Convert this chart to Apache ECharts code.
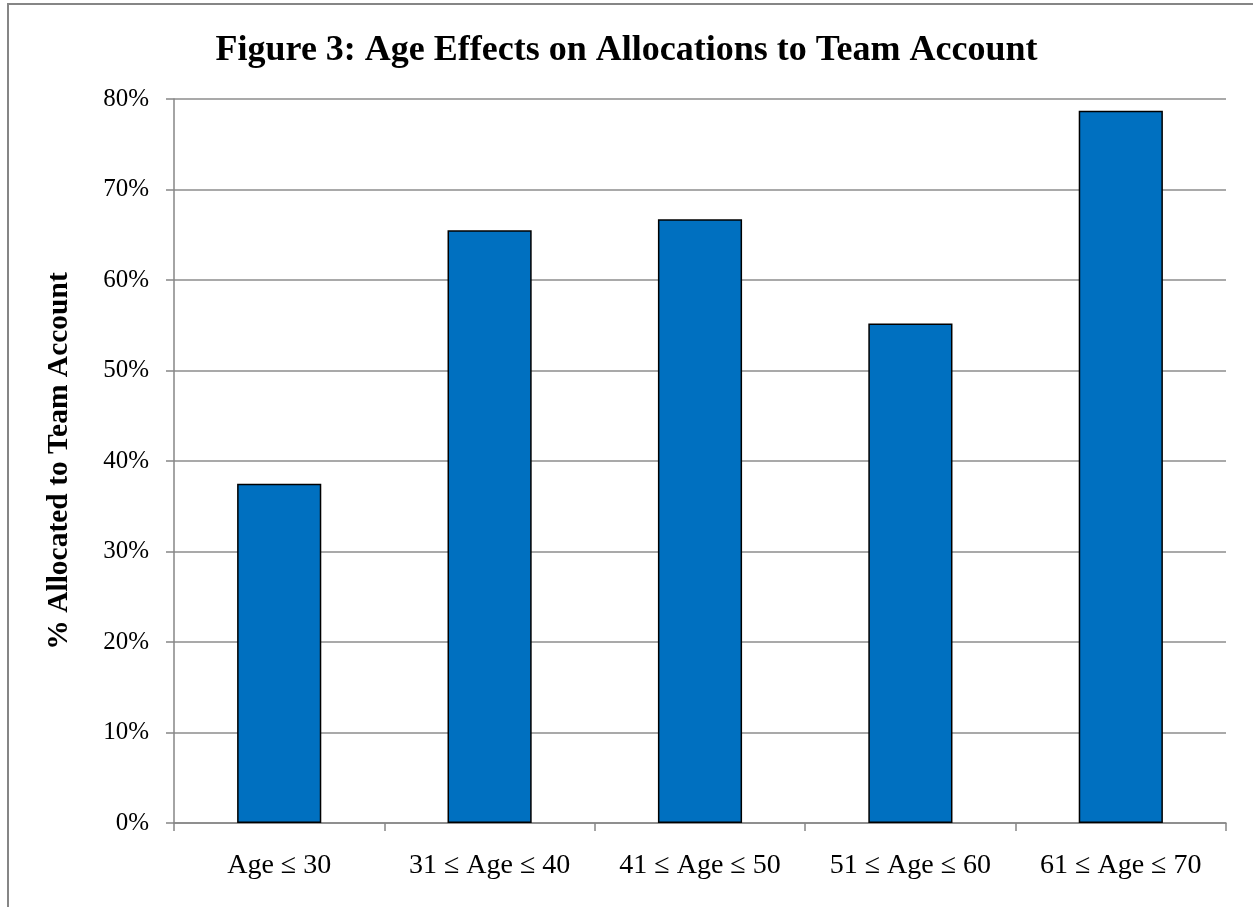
<!DOCTYPE html>
<html>
<head>
<meta charset="utf-8">
<title>Figure 3: Age Effects on Allocations to Team Account</title>
<script src="https://cdn.jsdelivr.net/npm/echarts@6/dist/echarts.min.js"></script>
<style>
  html, body { margin: 0; padding: 0; background: #ffffff; }
  #chart { width: 1253px; height: 907px; }
</style>
</head>
<body>
<div id="chart"></div>
<script>
// Age groups and the share allocated to the team account (percent)
const ageGroups = ['Age \u2264 30', '31 \u2264 Age \u2264 40', '41 \u2264 Age \u2264 50', '51 \u2264 Age \u2264 60', '61 \u2264 Age \u2264 70'];
const allocatedPct = [37.5, 65.5, 66.7, 55.2, 78.7];
const yTicks = { min: 0, max: 80, step: 10 };

const serif = "'Liberation Serif', 'Times New Roman', serif";
const axisGrey = '#868686';

const chart = echarts.init(document.getElementById('chart'), null, { renderer: 'canvas' });

chart.setOption({
  backgroundColor: '#ffffff',
  animation: false,
  title: {
    text: 'Figure 3: Age Effects on Allocations to Team Account',
    left: 'center',
    top: 28,
    textStyle: { fontFamily: serif, fontWeight: 'bold', fontSize: 36, color: '#000000' }
  },
  graphic: [
    // outer frame of the chart area (top and left edges)
    { type: 'line', shape: { x1: 7, y1: 4, x2: 1253, y2: 4 }, style: { stroke: axisGrey, lineWidth: 2 } },
    { type: 'line', shape: { x1: 8, y1: 3, x2: 8, y2: 907 }, style: { stroke: axisGrey, lineWidth: 2 } }
  ],
  grid: { left: 174, right: 27, top: 99, bottom: 84, containLabel: false },
  xAxis: {
    type: 'category',
    data: ageGroups,
    boundaryGap: true,
    axisLine: { show: true, lineStyle: { color: axisGrey, width: 1.5 } },
    axisTick: { show: true, alignWithLabel: false, length: 8, lineStyle: { color: axisGrey, width: 1.5 } },
    axisLabel: { margin: 29, fontFamily: serif, fontSize: 28, color: '#000000', interval: 0 }
  },
  yAxis: {
    type: 'value',
    min: yTicks.min,
    max: yTicks.max,
    interval: yTicks.step,
    name: '% Allocated to Team Account',
    nameLocation: 'middle',
    nameGap: 100,
    nameTextStyle: { fontFamily: serif, fontWeight: 'bold', fontSize: 29.5, color: '#000000' },
    axisLine: { show: true, lineStyle: { color: axisGrey, width: 1.5 } },
    axisTick: { show: true, inside: false, length: 8, lineStyle: { color: axisGrey, width: 1.5 } },
    axisLabel: { margin: 25, fontFamily: serif, fontSize: 25, color: '#000000', formatter: '{value}%' },
    splitLine: { show: true, lineStyle: { color: '#8c8c8c', width: 1.5 } }
  },
  series: [{
    type: 'bar',
    data: allocatedPct,
    barWidth: '40%',
    itemStyle: { color: '#0070C0', borderColor: '#000000', borderWidth: 1.5 }
  }]
});
</script>
</body>
</html>
